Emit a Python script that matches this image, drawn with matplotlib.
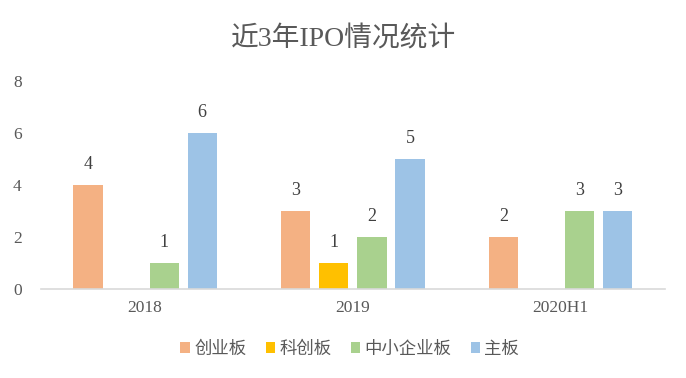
import matplotlib.pyplot as plt
import numpy as np

# data
categories = ['2018', '2019', '2020H1']
series_names = ['创业板', '科创板', '中小企业板', '主板']
chuangye = [4, 3, 2]
kechuang = [0, 1, 0]
zhongxiao = [1, 2, 3]
zhuban = [6, 5, 3]
colors = ['#F4B183', '#FFC000', '#A9D18E', '#9DC3E6']

text_color = '#595959'
font_list = ['Liberation Serif', 'Noto Sans CJK SC']
plt.rcParams['font.family'] = font_list

fig = plt.figure(figsize=(6.86, 3.78), dpi=100)
ax = fig.add_axes([0.06, 0.235, 0.909, 0.551])

x = np.arange(len(categories))
width = 0.14
step = 0.183
all_series = [chuangye, kechuang, zhongxiao, zhuban]
for i, (vals, name, c) in enumerate(zip(all_series, series_names, colors)):
    pos = x + (i - 1.5) * step
    ax.bar(pos, vals, width=width, color=c, label=name, zorder=2)
    for p, v in zip(pos, vals):
        if v > 0:
            ax.text(p, v + 0.8, str(v), ha='center', va='center',
                    fontsize=13, color='#404040')

ax.set_xlim(-0.5, 2.5)
ax.set_ylim(0, 8)
ax.set_yticks(range(0, 9, 2))
ax.set_xticks(x)
ax.set_xticklabels(categories)
ax.tick_params(axis='both', length=0, labelsize=12.5, colors=text_color)
ax.tick_params(axis='x', pad=8)
ax.tick_params(axis='y', pad=14)
for s in ['top', 'right', 'left']:
    ax.spines[s].set_visible(False)
ax.spines['bottom'].set_color('#D9D9D9')
ax.spines['bottom'].set_linewidth(1.2)

fig.text(0.5, 0.895, '近3年IPO情况统计', ha='center', va='center',
         fontsize=20, color=text_color, fontweight='medium')

leg = fig.legend(loc='center', bbox_to_anchor=(0.51, 0.075), ncol=4,
                 frameon=False, fontsize=12.5, handlelength=0.55, handleheight=0.55,
                 handletextpad=0.25, columnspacing=1.1)
for t in leg.get_texts():
    t.set_color(text_color)

fig.savefig('out.png', dpi=100)
